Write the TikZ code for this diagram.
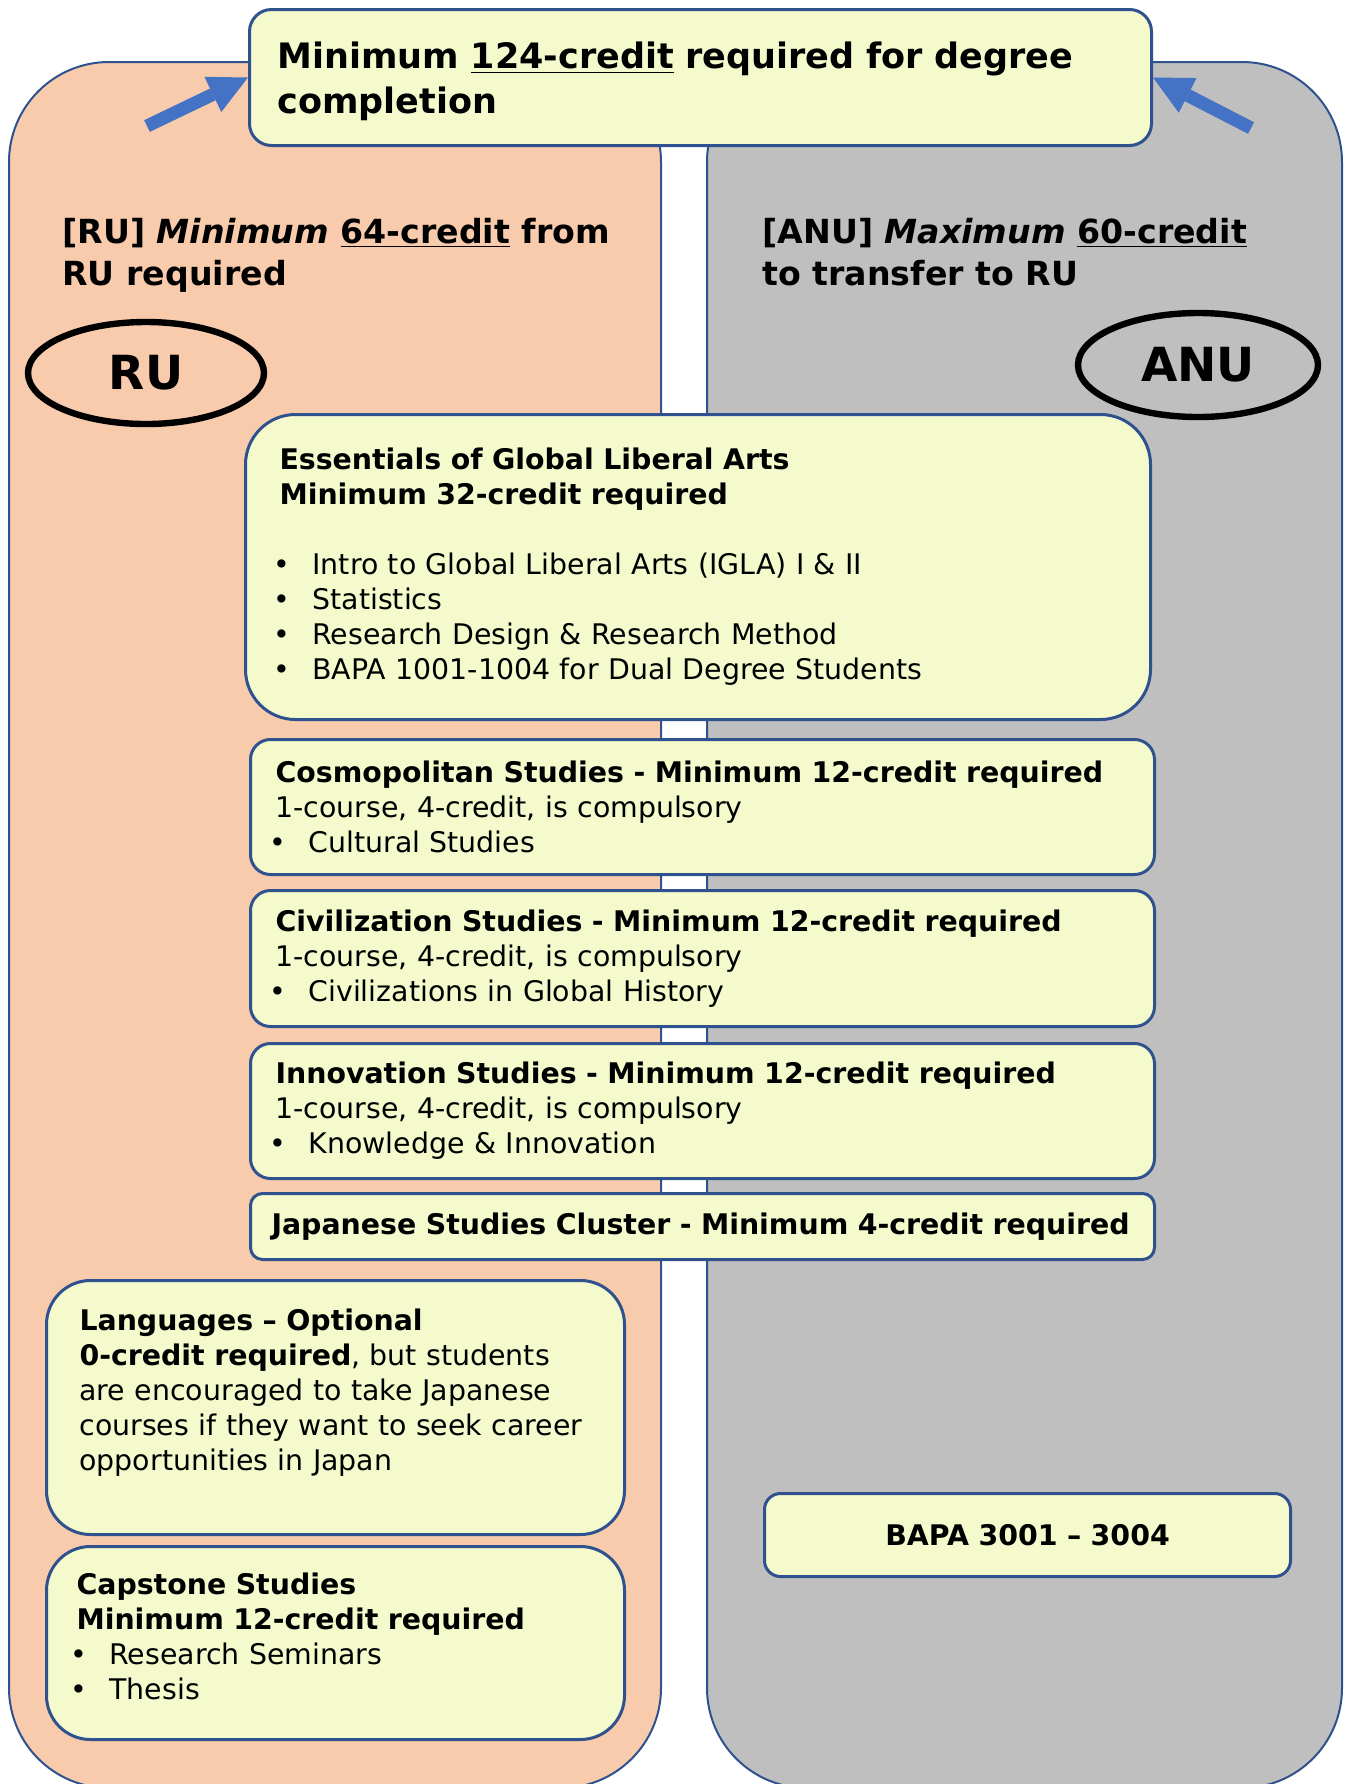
\documentclass[tikz,border=0pt]{standalone}
\usepackage{fontspec}
\setmainfont{DejaVu Sans}
\usetikzlibrary{arrows.meta,shapes.geometric}
\definecolor{ruside}{HTML}{F8CBAD}
\definecolor{anuside}{HTML}{BFBFBF}
\definecolor{boxfill}{HTML}{F5FACD}
\definecolor{boxline}{HTML}{2F528F}
\definecolor{arrowblue}{HTML}{4472C4}
\newcommand{\bul}{\makebox[16.5pt][l]{\hspace{-3pt}•}}
\newcommand{\fsize}[2]{\fontsize{#1}{#2}\selectfont}

\begin{document}
\begin{tikzpicture}[x=0.5pt,y=-0.5pt,>={Triangle[length=19.5pt,width=19.5pt,line width=0pt]},
	panel/.style={draw=boxline, line width=1pt, rounded corners=50pt},
	box/.style={draw=boxline, fill=boxfill, line width=1.5pt, anchor=north west, align=left, font=\fsize{14.2pt}{17.5pt}},
	school/.style={ellipse, draw, line width=3.2pt, inner sep=0pt, font=\fsize{23.5pt}{28pt}\bfseries},
	heading/.style={anchor=base west, align=left, inner sep=0pt, font=\fsize{16.6pt}{21pt}\bfseries},
	bigarrow/.style={->, draw=arrowblue, line width=6.5pt}]
	\useasboundingbox (0,0) rectangle (1349,1784);
	\draw[panel, fill=ruside] (9,62) rectangle (661,1788);
	\draw[panel, fill=anuside] (707,62) rectangle (1342,1788);
	\node (goal) [box, at={(248,8)}, minimum width=451pt, minimum height=68pt, inner xsep=14pt, text width=423pt, rounded corners=11pt, font=\fsize{17.5pt}{22.5pt}\bfseries] {\rule{0pt}{17.5pt}Minimum \underline{124-credit} required for degree\\completion};
	\node (ruhead) [heading, at={(62,285)}] {[RU] \textit{Minimum} \underline{64-credit} from\\RU required};
	\node (anuhead) [heading, at={(762,285)}] {[ANU] \textit{Maximum} \underline{60-credit}\\to transfer to RU};
	\node (ru) [school, at={(146,373)}, minimum width=118pt, minimum height=51pt] {RU};
	\node (anu) [school, at={(1198,365)}, minimum width=120pt, minimum height=52pt] {ANU};
	\node (essentials) [box, at={(244,413)}, minimum width=452.5pt, minimum height=152.5pt, inner xsep=17pt, text width=418.5pt, rounded corners=25pt] {\textbf{Essentials of Global Liberal Arts}\\\textbf{Minimum 32-credit required}\\[17.5pt]\bul Intro to Global Liberal Arts (IGLA) I \& II\\\bul Statistics\\\bul Research Design \& Research Method\\\bul BAPA 1001-1004 for Dual Degree Students};
	\node (cosmo) [box, at={(249,738)}, minimum width=452pt, minimum height=67.5pt, inner xsep=12.5pt, text width=427pt, rounded corners=10pt] {\textbf{Cosmopolitan Studies - Minimum 12-credit required}\\1-course, 4-credit, is compulsory\\\bul Cultural Studies};
	\node (civ) [box, at={(249,889)}, minimum width=452pt, minimum height=68pt, inner xsep=12.5pt, text width=427pt, rounded corners=10pt] {\textbf{Civilization Studies - Minimum 12-credit required}\\1-course, 4-credit, is compulsory\\\bul Civilizations in Global History};
	\node (innov) [box, at={(249,1042)}, minimum width=452pt, minimum height=67.5pt, inner xsep=12.5pt, text width=427pt, rounded corners=10pt] {\textbf{Innovation Studies - Minimum 12-credit required}\\1-course, 4-credit, is compulsory\\\bul Knowledge \& Innovation};
	\node (japan) [box, at={(249,1192)}, minimum width=452pt, minimum height=33pt, inner xsep=10.5pt, text width=431pt, rounded corners=6pt] {\textbf{Japanese Studies Cluster - Minimum 4-credit required}};
	\node (lang) [box, at={(45,1279)}, minimum width=289pt, minimum height=127pt, inner xsep=16.5pt, text width=256pt, rounded corners=22pt] {\textbf{Languages – Optional}\\\textbf{0-credit required}, but students\\are encouraged to take Japanese\\courses if they want to seek career\\opportunities in Japan\\\mbox{}};
	\node (capstone) [box, at={(45,1545)}, minimum width=289pt, minimum height=96.5pt, inner xsep=15pt, text width=259pt, rounded corners=22pt] {\textbf{Capstone Studies}\\\textbf{Minimum 12-credit required}\\\bul Research Seminars\\\bul Thesis\\[-11pt]\mbox{}};
	\node (bapa) [box, at={(763,1492)}, minimum width=263pt, minimum height=41.5pt, inner xsep=14pt, text width=235pt, align=center, rounded corners=8pt] {\textbf{BAPA 3001 – 3004}};
	\coordinate (rutail) at (147,126);
	\coordinate (anutail) at (1251,128);
	\draw[bigarrow] (rutail) -- (goal.west);
	\draw[bigarrow] (anutail) -- (goal.east);
\end{tikzpicture}
\end{document}
